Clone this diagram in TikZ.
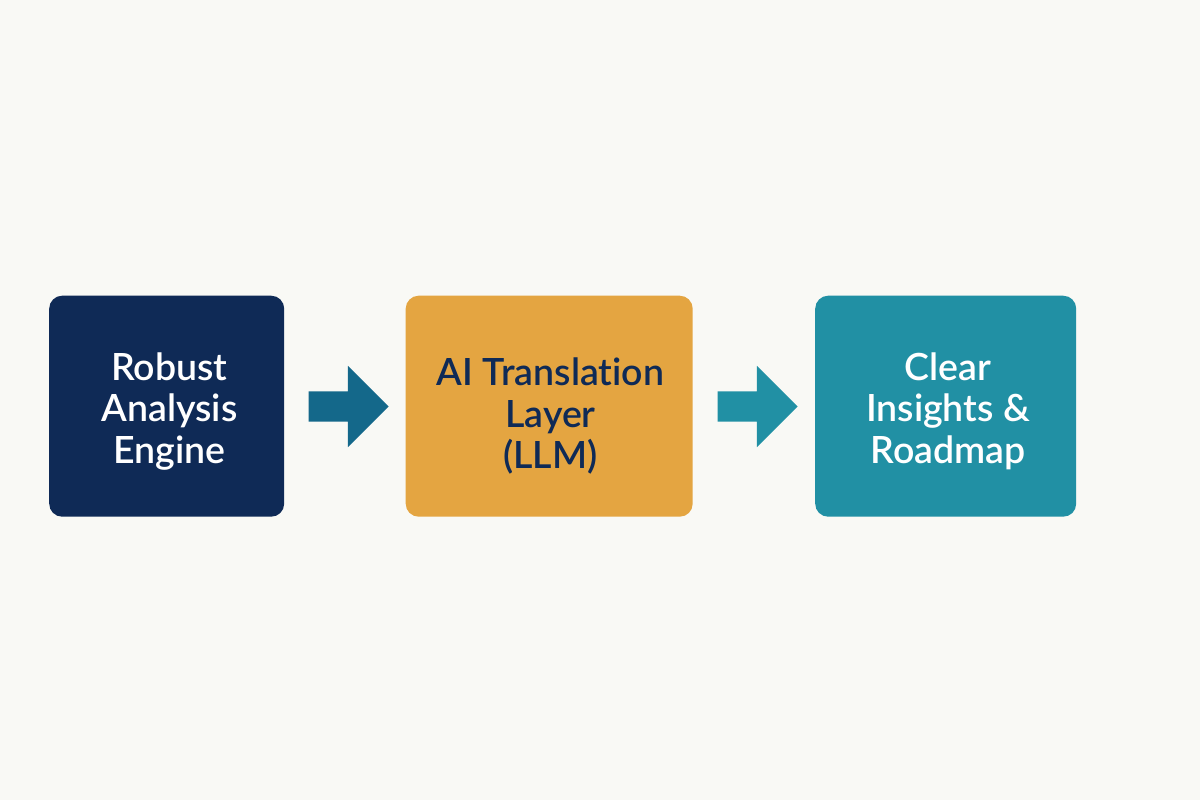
\documentclass[tikz,border=0pt]{standalone}
\usepackage{fontspec}
\setmainfont{Lato Semibold}[Ligatures=NoCommon]
\usetikzlibrary{shapes.arrows}
\definecolor{bgc}{HTML}{F9F9F5}
\definecolor{navy}{HTML}{0F2A56}
\definecolor{amber}{HTML}{E4A541}
\definecolor{tealbox}{HTML}{2190A4}
\definecolor{arrowa}{HTML}{14688A}
\definecolor{arrowb}{HTML}{2190A4}
\tikzset{
  x=1pt,y=-1pt,
  flowbox/.style={rounded corners=13pt,draw=none,inner sep=0pt,anchor=north west,minimum height=221pt},
  boxlabel/.style={align=center,inner sep=0pt,font=\fontsize{37.5}{41.5}\selectfont},
  flowarrow/.style={draw=none,single arrow,single arrow head extend=25.5pt,single arrow tip angle=90,inner xsep=0pt,inner ysep=15pt,minimum height=80pt,minimum width=81pt}
}
\begin{document}
\begin{tikzpicture}
\fill[bgc] (0,0) rectangle (1200,800);
\useasboundingbox (0,0) rectangle (1200,800);
\node[flowbox,fill=navy,minimum width=235pt] (a) at (49,295.5) {};
\node[flowbox,fill=amber,minimum width=287pt] (b) at (405.5,295.5) {};
\node[flowbox,fill=tealbox,minimum width=261pt] (c) at (815,295.5) {};
\node[boxlabel,text=white] (ta) at (169.5,411.5) {Robust\\Analysis\\Engine};
\node[boxlabel,text=navy] (tb) at (550.5,416) {AI Translation\\Layer\\(LLM)};
\node[boxlabel,text=white] (tc) at (948,411) {Clear\\Insights \&\\Roadmap};
\node[flowarrow,fill=arrowa] (p) at (341,406.5) {};
\node[flowarrow,fill=arrowb] (q) at (750,406.5) {};
\end{tikzpicture}
\end{document}
